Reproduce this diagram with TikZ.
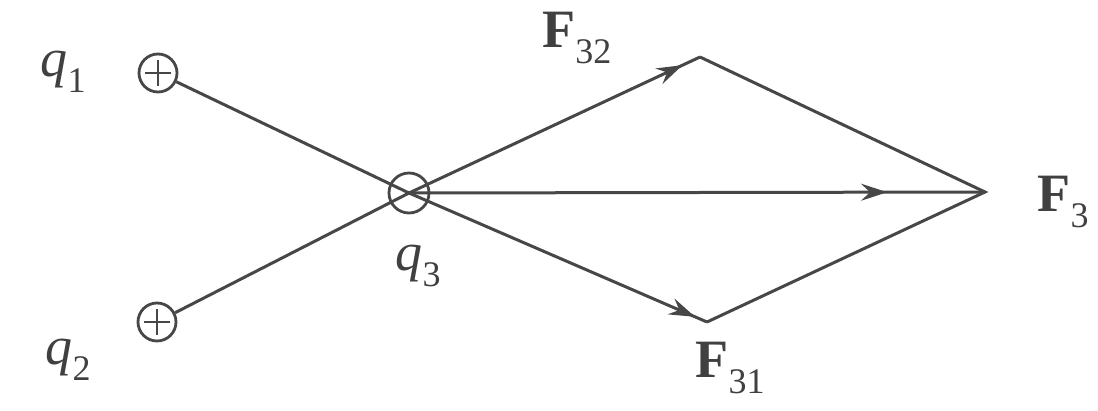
\documentclass[tikz,border=0pt]{standalone}
\usepackage{fontspec}
\setmainfont{Liberation Serif}
\usetikzlibrary{arrows.meta,decorations.markings}
\newcommand\subs[1]{\raisebox{-0.3em}{\fontsize{36}{38}\selectfont #1}}
\begin{document}
\begin{tikzpicture}[x=1pt,y=-1pt,
  ln/.style={draw=black!72,line width=3pt},
  chg/.style={circle,draw=black!72,line width=2.8pt,minimum size=38pt,inner sep=0pt},
  lbl/.style={font=\fontsize{54}{58}\selectfont,text=black!75,inner sep=0pt},
  midarrow/.style={postaction={decorate},decoration={markings,
     mark=at position #1 with {\arrow{Stealth[length=26pt,width=17pt,inset=9pt]}}}}
]
\useasboundingbox (0,0) rectangle (1098,410);
\node[chg] (q1) at (158,73) {};
\draw[ln,line width=2.6pt] (q1.center) ++(-13,0) -- ++(26,0) (q1.center) ++(0,-13) -- ++(0,26);
\node[chg] (q2) at (157,322) {};
\draw[ln,line width=2.6pt] (q2.center) ++(-13,0) -- ++(26,0) (q2.center) ++(0,-13) -- ++(0,26);
\node[chg,minimum size=40pt] (q3) at (409,193) {};
\coordinate (a) at (700,57);
\coordinate (b) at (707,322);
\coordinate (c) at (985,192);
\draw[ln] (q1) -- (q3.center);
\draw[ln] (q2) -- (q3.center);
\draw[ln,midarrow=0.94] (q3.center) -- (a);
\draw[ln,midarrow=0.96] (q3.center) -- (b);
\draw[ln,midarrow=0.83] (q3.center) -- (c);
\draw[ln] (a) -- (c) -- (b);
\node[lbl] (l1) at (63,72) {\textit{q}\subs{1}};
\node[lbl] (l2) at (68,360) {\textit{q}\subs{2}};
\node[lbl] (l3) at (418,266) {\textit{q}\subs{3}};
\node[lbl] (f32) at (577,38) {\textbf{F}\subs{32}};
\node[lbl] (f31) at (730,368) {\textbf{F}\subs{31}};
\node[lbl] (f3) at (1063,202) {\textbf{F}\subs{3}};
\end{tikzpicture}
\end{document}
